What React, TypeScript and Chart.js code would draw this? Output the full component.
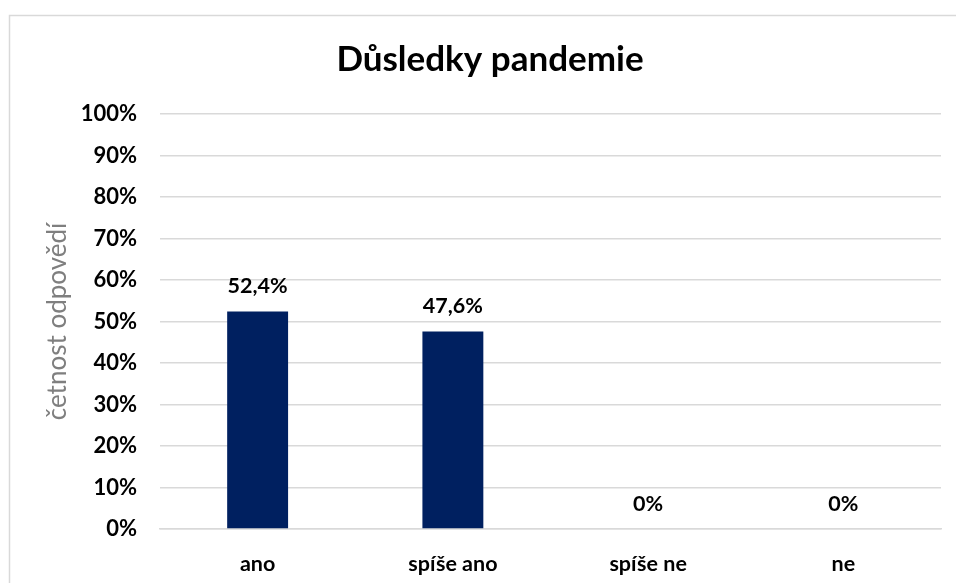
import React, { useEffect, useRef } from "react";
import { Chart, registerables } from "chart.js";

Chart.register(...registerables);

const chartTitle = "Důsledky pandemie";
const axisTitle = "četnost odpovědí";
const categories = ["ano", "spíše ano", "spíše ne", "ne"];
const shares = [52.4, 47.6, 0, 0];
const yTicks = [0, 10, 20, 30, 40, 50, 60, 70, 80, 90, 100];

const FONT = "Lato, 'Open Sans', sans-serif";
const BAR_COLOR = "#002060";
const GRID_COLOR = "#d9d9d9";

const formatShare = (v: number) =>
  v === 0 ? "0%" : v.toFixed(1).replace(".", ",") + "%";

// White background, outer frame and the centred heading
const framePlugin = {
  id: "frame",
  beforeDraw(chart: any) {
    const { ctx, width, height } = chart;
    ctx.save();
    ctx.fillStyle = "#ffffff";
    ctx.fillRect(0, 0, width, height);
    ctx.strokeStyle = GRID_COLOR;
    ctx.lineWidth = 1.5;
    ctx.strokeRect(9.5, 15.5, width + 20, height + 20);
    ctx.fillStyle = "#000000";
    ctx.font = `bold 35px ${FONT}`;
    ctx.textAlign = "center";
    ctx.textBaseline = "middle";
    ctx.fillText(chartTitle, 490, 60);
    ctx.restore();
  },
};

// Value labels above each bar
const valueLabelPlugin = {
  id: "valueLabels",
  afterDatasetsDraw(chart: any) {
    const { ctx } = chart;
    const meta = chart.getDatasetMeta(0);
    ctx.save();
    ctx.fillStyle = "#000000";
    ctx.font = `bold 21.5px ${FONT}`;
    ctx.textAlign = "center";
    ctx.textBaseline = "middle";
    meta.data.forEach((bar: any, i: number) => {
      ctx.fillText(formatShare(shares[i]), bar.x, bar.y - 25);
    });
    ctx.restore();
  },
};

export default function App() {
  const canvasRef = useRef<HTMLCanvasElement | null>(null);

  useEffect(() => {
    if (!canvasRef.current) return;
    const chart = new Chart(canvasRef.current, {
      type: "bar",
      data: {
        labels: categories,
        datasets: [
          {
            data: shares,
            backgroundColor: BAR_COLOR,
            borderWidth: 0,
            barPercentage: 0.312,
            categoryPercentage: 1,
          },
        ],
      },
      options: {
        responsive: false,
        animation: false,
        devicePixelRatio: 1,
        layout: { padding: { top: 114, right: 15, left: 0, bottom: 0 } },
        plugins: {
          legend: { display: false },
          tooltip: { enabled: false },
          title: { display: false },
        },
        scales: {
          x: {
            grid: { display: false, drawTicks: false },
            border: { display: true, color: GRID_COLOR, width: 1.5 },
            ticks: {
              color: "#000000",
              font: { family: FONT, size: 21.5, weight: "bold" },
              padding: 22,
            },
            afterFit(scale: any) {
              scale.height = 54;
            },
          },
          y: {
            min: 0,
            max: 100,
            afterBuildTicks(scale: any) {
              scale.ticks = yTicks.map((v) => ({ value: v }));
            },
            grid: { color: GRID_COLOR, lineWidth: 1.5, drawTicks: false },
            border: { display: false },
            ticks: {
              color: "#000000",
              font: { family: FONT, size: 22, weight: "bold" },
              padding: 23,
              callback: (v: any) => `${v}%`,
            },
            title: {
              display: true,
              text: axisTitle,
              color: "#7f7f7f",
              font: { family: FONT, size: 26, weight: "normal" },
              padding: { top: 42, bottom: 0 },
            },
            afterFit(scale: any) {
              scale.width = 160;
            },
          },
        },
      },
      plugins: [framePlugin, valueLabelPlugin],
    });
    return () => chart.destroy();
  }, []);

  return (
    <div style={{ position: "absolute", left: 0, top: 0, width: 956, height: 583 }}>
      <canvas ref={canvasRef} width={956} height={583} />
    </div>
  );
}
